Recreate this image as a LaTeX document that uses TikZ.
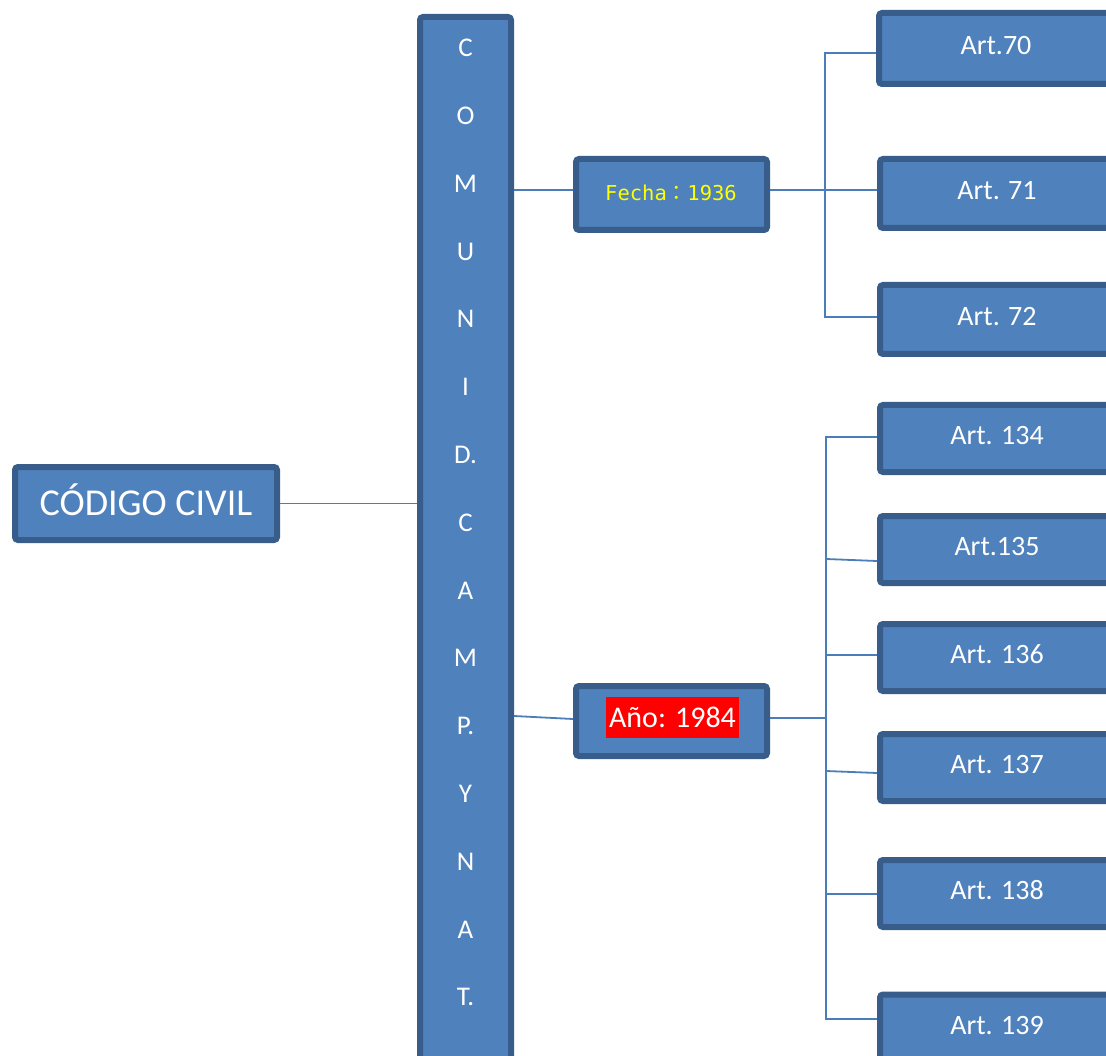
\documentclass[tikz,border=0pt]{standalone}
\usepackage{fontspec}
\setmainfont{Carlito}
\newfontfamily\fechamono{DejaVu Sans Mono}
\newfontfamily\fechacjk{Noto Sans CJK JP}
\usetikzlibrary{calc}
\definecolor{boxfill}{HTML}{4F81BD}
\definecolor{boxline}{HTML}{385D8A}
\definecolor{connline}{HTML}{4A7EBB}
\definecolor{fechayellow}{HTML}{FFFF00}
\definecolor{hlred}{HTML}{FF0000}
\begin{document}
\begin{tikzpicture}[x=1pt,y=-1pt,
  box/.style={draw=boxline, fill=boxfill, line width=6pt, rounded corners=3pt, inner sep=0pt, text=white},
  conn/.style={draw=connline, line width=1.8pt},
  artbox/.style={box, minimum width=234pt, minimum height=67pt,
     font=\fontsize{28}{34}\selectfont, text height=18.2pt, text depth=5.6pt},
  bartext/.style={text=white, inner sep=0pt, font=\fontsize{27}{32}\selectfont, text height=17.4pt, text depth=0pt},
]
\useasboundingbox (0,0) rectangle (1106,1056);
\clip (0,0) rectangle (1106,1056);

% main boxes
\node[box, minimum width=262pt, minimum height=73pt,
      font=\fontsize{38}{44}\selectfont, text height=24.5pt, text depth=0pt] (cc) at (146,503.5) {CÓDIGO CIVIL};
\node[box, minimum width=91pt, minimum height=1080pt] (bar) at (465.5,557) {};
\foreach \t [count=\i from 0] in {C,O,M,U,N,I,D.,C,A,M,P.,Y,N,A,T.}
  \node[bartext] (L\i) at (465.5,{48+67.8*\i}) {\t};

\node[box, minimum width=191pt, minimum height=71pt] (fecha) at (671.5,194.5) {};
\node[inner sep=0pt, text=fechayellow, text height=15pt, text depth=0pt] (fechatxt) at (671,193)
  {{\fechamono\fontsize{20.5}{24}\selectfont Fecha}{\fechacjk\fontsize{20.5}{24}\selectfont ：}{\fechamono\fontsize{20.5}{24}\selectfont 1936}};

\node[box, minimum width=191pt, minimum height=70pt] (ano) at (671.5,721) {};
\node[fill=hlred, text=white, inner sep=0pt, minimum width=133pt, minimum height=41pt,
      font=\fontsize{30}{36}\selectfont, text height=19.3pt, text depth=0pt] (anotxt) at (672.5,717.5) {Año: 1984};

% article boxes
\node[artbox, minimum height=71pt] (a70) at (996,48.5) {Art.70};
\node[artbox, minimum height=69pt] (a71) at (997,193.5) {Art. 71};
\node[artbox, minimum height=69pt] (a72) at (997,319.5) {Art. 72};
\node[artbox] (a134) at (997,438.5) {Art. 134};
\node[artbox] (a135) at (997,549.5) {Art.135};
\node[artbox] (a136) at (997,657.5) {Art. 136};
\node[artbox] (a137) at (997,767.5) {Art. 137};
\node[artbox] (a138) at (997,893.5) {Art. 138};
\node[artbox] (a139) at (997,1028) {Art. 139};

% connectors
\draw[conn] (cc.east) -- (cc.east -| bar.west);
\coordinate (bf) at (514,190);
\draw[conn] (bf) -- (bf -| fecha.west);
\coordinate (ba) at (514,716);
\draw[conn] (ba) -- ($(ano.west)+(0,-2)$);

% tree 1
\coordinate (j1) at (825,190);
\coordinate (j1t) at (825,53);
\coordinate (j1b) at (825,317);
\draw[conn] (fecha.east |- j1) -- (j1);
\draw[conn] (j1t -| a70.west) -- (j1t) -- (j1b) -- (j1b -| a72.west);
\draw[conn] (j1) -- (j1 -| a71.west);

% tree 2
\coordinate (j2) at (826,718);
\coordinate (t1) at (826,437);
\coordinate (t2) at (826,559);
\coordinate (t3) at (826,655);
\coordinate (t4) at (826,771);
\coordinate (t5) at (826,894);
\coordinate (t6) at (826,1019);
\draw[conn] (ano.east |- j2) -- (j2);
\draw[conn] (t1 -| a134.west) -- (t1) -- (t6) -- (t6 -| a139.west);
\draw[conn] (t2) -- ($(a135.west)+(0,11.5)$);
\draw[conn] (t3) -- (t3 -| a136.west);
\draw[conn] (t4) -- ($(a137.west)+(0,5.5)$);
\draw[conn] (t5) -- (t5 -| a138.west);
\end{tikzpicture}
\end{document}
